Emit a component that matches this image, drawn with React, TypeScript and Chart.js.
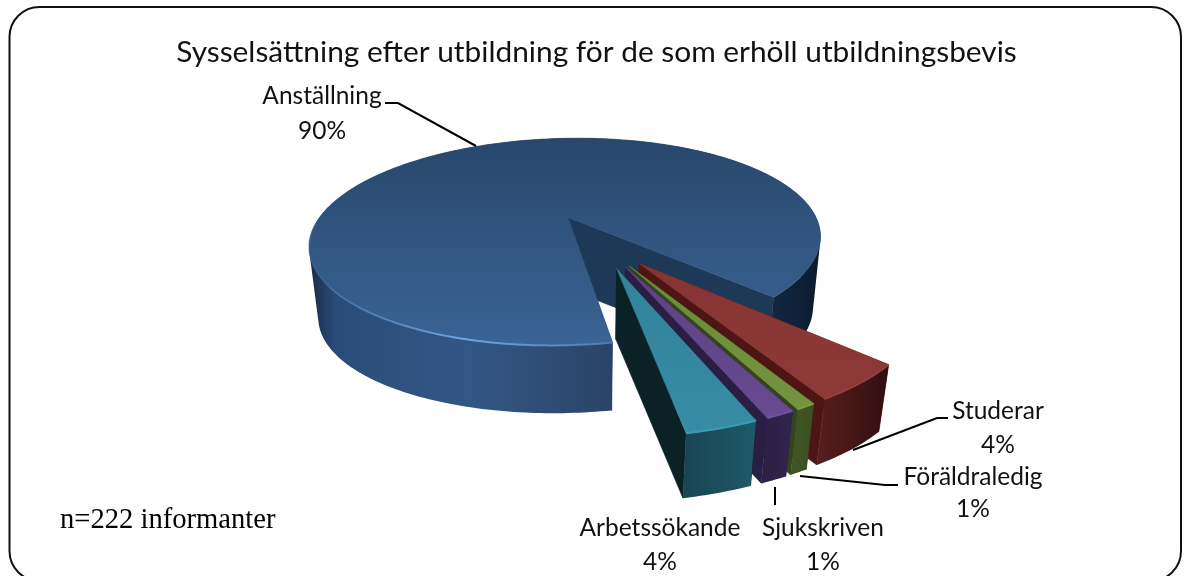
import React, { useEffect, useRef } from "react";
import { Chart, registerables } from "chart.js";

Chart.register(...registerables);

const TITLE = "Sysselsättning efter utbildning för de som erhöll utbildningsbevis";
const NOTE = "n=222 informanter";
const categories = ["Anställning", "Studerar", "Föräldraledig", "Sjukskriven", "Arbetssökande"];
const shares = [90, 4.6, 0.9, 1.3, 3.2];
// percentages as printed on the labels
const printedPercent = ["90%", "4%", "1%", "1%", "4%"];
const explosion = [0.27, 0.24, 0.24, 0.24, 0.24];
const baseColors = ["#355a88", "#8a3635", "#6f8d3c", "#63478a", "#35889f"];

const SANS = "Lato, 'Open Sans', sans-serif";

// 3D view (projective map from the pie plane to the canvas)
const VIEW = { cx: 568, cy: 217, a: 248, b: 97.7, k: 0.237, shear: -12, pivotU: 0.129, pivotV: 0.239, nadirX: 590, nadirY: 2400, drop: 0.033 };

function project(u: number, v: number, low: boolean) {
  const w = 1 - VIEW.k * v;
  let x = VIEW.cx + (VIEW.a * u + VIEW.shear * v) / w;
  let y = VIEW.cy + (VIEW.b * v) / w;
  if (low) {
    x += (VIEW.nadirX - x) * VIEW.drop;
    y += (VIEW.nadirY - y) * VIEW.drop;
  }
  return { x, y };
}

// Shading of each slice
const shading = [
  {
    top: [[138, "#28476b"], [345, "#3a6494"]],
    wall: [[310, "#182c46"], [335, "#2a4c78"], [470, "#335785"], [612, "#2a4467"], [640, "#1a2f4a"], [775, "#13263e"], [825, "#0b1a2c"]],
    cut: "#1e3858",
    rim: "#5f95d2",
  },
  { top: [[263, "#863433"], [420, "#8e3a38"]], wall: [[815, "#5a1f1f"], [890, "#2e0f0e"]], cut: "#4d1612", rim: "#96403d" },
  { top: [[265, "#6a883a"], [410, "#75943f"]], wall: [[790, "#415626"], [820, "#3a4d20"]], cut: "#34441e", rim: "#7b9b44" },
  { top: [[266, "#5d4284"], [422, "#684b90"]], wall: [[763, "#2c2046"], [798, "#34264f"]], cut: "#2b1e44", rim: "#6f519a" },
  { top: [[268, "#32829a"], [437, "#378ca5"]], wall: [[685, "#1a4553"], [757, "#1f5a6a"]], cut: "#0a2226", rim: "#3d9ab6" },
];

// Callout layout: text centre, leader line
const callouts = [
  { x: 322, y: 96, gap: 35, leader: [[385, 103], [398, 103], [476, 146]] },
  { x: 998, y: 411, gap: 34, leader: [[948, 418], [937, 418], [853, 450]] },
  { x: 973, y: 477, gap: 32, leader: [[898, 485], [885, 485], [800, 476]] },
  { x: 823, y: 528, gap: 34, leader: [[775, 487], [775, 505]] },
  { x: 660, y: 528, gap: 34, leader: [] as number[][] },
];

function vGrad(ctx: CanvasRenderingContext2D, stops: any[]) {
  const g = ctx.createLinearGradient(0, stops[0][0], 0, stops[stops.length - 1][0]);
  stops.forEach((s) => g.addColorStop((s[0] - stops[0][0]) / (stops[stops.length - 1][0] - stops[0][0]), s[1]));
  return g;
}
function hGrad(ctx: CanvasRenderingContext2D, stops: any[]) {
  const g = ctx.createLinearGradient(stops[0][0], 0, stops[stops.length - 1][0], 0);
  stops.forEach((s) => g.addColorStop((s[0] - stops[0][0]) / (stops[stops.length - 1][0] - stops[0][0]), s[1]));
  return g;
}

const pie3d = {
  id: "pie3d",
  beforeDatasetDraw(chart: any, args: any) {
    const ctx: CanvasRenderingContext2D = chart.ctx;
    const meta = args.meta;
    meta.data.forEach((arc: any, i: number) => {
      const a0 = arc.startAngle;
      const a1 = arc.endAngle;
      const mid = (a0 + a1) / 2;
      const ou = VIEW.pivotU + explosion[i] * Math.cos(mid);
      const ov = VIEW.pivotV + explosion[i] * Math.sin(mid);
      const at = (t: number, rho: number, low: boolean) => project(ou + rho * Math.cos(t), ov + rho * Math.sin(t), low);
      const steps = Math.max(4, Math.ceil(((a1 - a0) * 180) / Math.PI));
      const angles: number[] = [];
      for (let s = 0; s <= steps; s++) angles.push(a0 + ((a1 - a0) * s) / steps);
      const style = shading[i];
      const poly = (pts: { x: number; y: number }[], fill: any) => {
        ctx.beginPath();
        pts.forEach((p, n) => (n ? ctx.lineTo(p.x, p.y) : ctx.moveTo(p.x, p.y)));
        ctx.closePath();
        ctx.fillStyle = fill;
        ctx.strokeStyle = fill;
        ctx.lineWidth = 0.6;
        ctx.fill();
        ctx.stroke();
      };
      // cut faces
      [a0, a1].forEach((t) => {
        poly([at(t, 0, false), at(t, 1, false), at(t, 1, true), at(t, 0, true)], style.cut);
      });
      // outer wall: all facets in one path, wound the same way, so the fill is a seamless union
      ctx.beginPath();
      for (let s = 0; s < angles.length - 1; s++) {
        const q = [at(angles[s], 1, false), at(angles[s + 1], 1, false), at(angles[s + 1], 1, true), at(angles[s], 1, true)];
        let area = 0;
        q.forEach((p, n) => {
          const r = q[(n + 1) % 4];
          area += p.x * r.y - r.x * p.y;
        });
        const ordered = area < 0 ? q.slice().reverse() : q;
        ordered.forEach((p, n) => (n ? ctx.lineTo(p.x, p.y) : ctx.moveTo(p.x, p.y)));
        ctx.closePath();
      }
      ctx.fillStyle = hGrad(ctx, style.wall);
      ctx.fill("nonzero");
      // top face
      poly([at(a0, 0, false), ...angles.map((t) => at(t, 1, false))], vGrad(ctx, style.top));
      // lit front edge
      ctx.beginPath();
      let started = false;
      angles.forEach((t) => {
        if (i === 0 && Math.sin(t) < 0.05) return;
        if (i === 0 && t > Math.PI) return;
        const p = at(t, 1, false);
        if (started) ctx.lineTo(p.x, p.y);
        else ctx.moveTo(p.x, p.y);
        started = true;
      });
      if (i === 0) {
        const g = ctx.createLinearGradient(315, 0, 615, 0);
        g.addColorStop(0, "rgba(95,149,210,0.15)");
        g.addColorStop(0.5, "rgba(110,165,225,1)");
        g.addColorStop(1, "rgba(80,130,190,0.8)");
        ctx.strokeStyle = g;
      } else {
        ctx.strokeStyle = style.rim;
      }
      ctx.lineWidth = 2;
      ctx.stroke();
    });
    return false;
  },
};

const frame = {
  id: "frame",
  beforeDraw(chart: any) {
    const ctx: CanvasRenderingContext2D = chart.ctx;
    ctx.save();
    ctx.beginPath();
    ctx.roundRect(9.5, 7, 1171.5, 574, 30);
    ctx.strokeStyle = "#111111";
    ctx.lineWidth = 2;
    ctx.stroke();
    ctx.restore();
  },
};

const callout = {
  id: "callout",
  afterDatasetsDraw(chart: any) {
    const ctx: CanvasRenderingContext2D = chart.ctx;
    ctx.save();
    ctx.strokeStyle = "#000000";
    ctx.lineWidth = 2;
    callouts.forEach((c) => {
      if (!c.leader.length) return;
      ctx.beginPath();
      c.leader.forEach((p, n) => (n ? ctx.lineTo(p[0], p[1]) : ctx.moveTo(p[0], p[1])));
      ctx.stroke();
    });
    ctx.fillStyle = "#111111";
    ctx.font = `24.5px ${SANS}`;
    ctx.textAlign = "center";
    ctx.textBaseline = "middle";
    callouts.forEach((c, i) => {
      ctx.fillText(categories[i], c.x, c.y);
      ctx.fillText(printedPercent[i], c.x, c.y + c.gap);
    });
    ctx.font = "28.6px 'Liberation Serif', serif";
    ctx.textAlign = "left";
    ctx.fillStyle = "#000000";
    ctx.fillText(NOTE, 60, 520);
    ctx.restore();
  },
};

export default function App() {
  const ref = useRef<HTMLCanvasElement>(null);
  useEffect(() => {
    document.body.style.margin = "0";
    document.body.style.background = "#ffffff";
    const chart = new Chart(ref.current!, {
      type: "pie",
      data: {
        labels: categories,
        datasets: [{ data: shares, backgroundColor: baseColors, borderWidth: 0 }],
      },
      options: {
        responsive: false,
        animation: false,
        rotation: 169.3,
        layout: { padding: { top: 34, left: 6, right: 0, bottom: 0 } },
        plugins: {
          legend: { display: false },
          tooltip: { enabled: false },
          title: {
            display: true,
            text: TITLE,
            color: "#111111",
            font: { family: SANS, size: 29.85, weight: "normal" },
            padding: { top: 0, bottom: 0 },
          },
        },
      },
      plugins: [frame, pie3d, callout],
    } as any);
    return () => chart.destroy();
  }, []);
  return (
    <canvas
      ref={ref}
      width={1187}
      height={576}
      style={{ display: "block", position: "fixed", left: 0, top: 0, width: 1187, height: 576 }}
    />
  );
}
